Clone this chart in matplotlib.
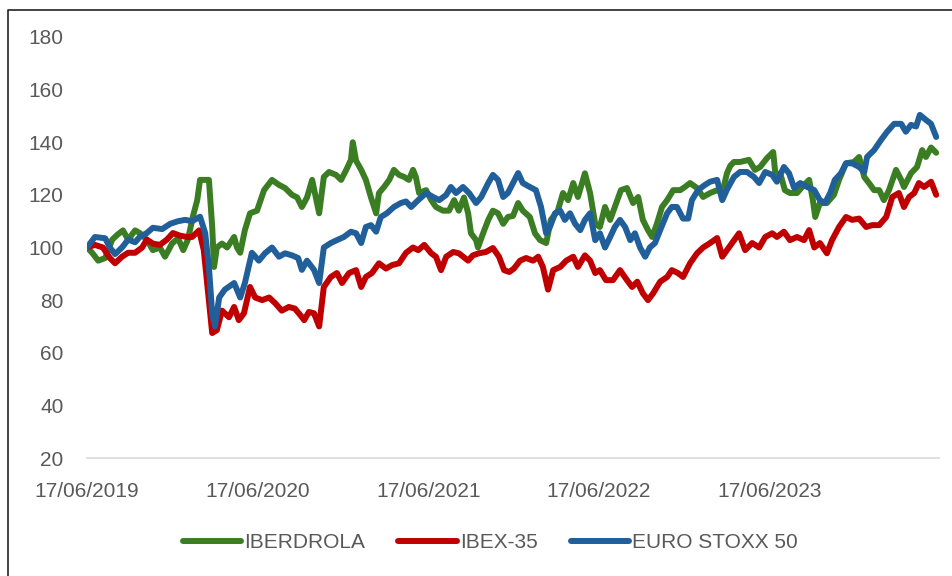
import matplotlib
matplotlib.use("Agg")
import matplotlib.pyplot as plt
import matplotlib.dates as mdates
from matplotlib.lines import Line2D
import pandas as pd

# Series indexed to 100 on 17/06/2019; x values are days since that date
start = pd.Timestamp("2019-06-17")
end = pd.Timestamp("2024-06-14")

iber_days = [0, 11, 24, 39, 54, 66, 77, 88, 103, 113, 128, 141, 156, 167, 182, 195, 206, 216,
             227, 236, 242, 261, 268, 272, 278, 289, 300, 315, 321, 328, 338, 349, 364, 379,
             396, 411, 424, 439, 450, 460, 471, 482, 490, 497, 507, 518, 533, 544, 555, 565,
             569, 576, 587, 597, 608, 619, 625, 636, 647, 657, 668, 679, 689, 698, 704, 711,
             726, 737, 747, 762, 775, 786, 796, 807, 816, 822, 833, 837, 848, 859, 869, 880,
             891, 901, 912, 923, 933, 948, 959, 970, 983, 993, 1008, 1019, 1030, 1041, 1051,
             1066, 1077, 1088, 1098, 1109, 1120, 1130, 1143, 1156, 1169, 1180, 1190, 1201,
             1210, 1220, 1231, 1242, 1255, 1270, 1280, 1291, 1306, 1319, 1334, 1349, 1360,
             1370, 1377, 1385, 1398, 1417, 1430, 1441, 1456, 1469, 1475, 1484, 1494, 1505,
             1520, 1531, 1546, 1554, 1559, 1569, 1584, 1599, 1610, 1625, 1642, 1653, 1664,
             1674, 1685, 1696, 1706, 1717, 1732, 1743, 1749, 1764, 1777, 1788, 1796, 1807, 1818]
iber_vals = [100, 98, 95, 96, 103, 105, 106.5, 103, 106.5, 105.5, 103, 99, 100, 96.5, 101.5,
             103.5, 99, 103, 112, 118, 125.7, 125.7, 108, 92.6, 100, 101.5, 100, 104, 100, 98,
             106.6, 113, 114, 121.8, 125.7, 123.8, 122.6, 120, 119, 115.4, 119, 125.7, 119, 113,
             126.8, 128.7, 127.6, 125.7, 129.5, 133.3, 140, 133, 129.5, 125.7, 119, 113, 120.7,
             123, 125.7, 129.5, 127.6, 126.8, 125.7, 129.5, 126.8, 120.7, 121.8, 118, 115.4, 114,
             114, 118, 114, 119, 113, 105.4, 102.8, 100, 105.4, 110.5, 114, 113, 109, 111.6, 112,
             116.9, 114, 111.6, 105.4, 102.8, 101.7, 110.5, 114, 120.7, 118, 124.5, 119.2, 128.2,
             120.7, 109, 107.8, 115.4, 110.5, 115.4, 121.8, 122.6, 116.9, 119.2, 110.5, 106.6,
             104, 109, 115.4, 118, 121.8, 121.8, 123, 124.5, 122.6, 119.2, 120.7, 121.8, 120.7,
             128.2, 131, 132.5, 132.5, 133.3, 129.5, 130.6, 134, 136.3, 125.7, 128.2, 121.8,
             120.7, 120.7, 123, 125.7, 118, 111.6, 116.9, 116.9, 120, 125.7, 132, 132.5, 134.4,
             126.8, 124.5, 121.8, 121.8, 118, 121.8, 129.5, 125.7, 123, 128.2, 130.6, 137, 134.4,
             138, 136]

ibex_days = [0, 17, 34, 49, 60, 75, 88, 103, 118, 128, 141, 156, 171, 184, 199, 214, 225, 240,
             250, 261, 268, 278, 289, 304, 315, 325, 336, 349, 360, 375, 390, 403, 417, 432, 445,
             458, 465, 475, 486, 497, 507, 522, 535, 546, 561, 576, 587, 597, 610, 625, 640, 653,
             668, 683, 698, 709, 722, 737, 747, 758, 769, 784, 796, 816, 826, 839, 854, 869, 882,
             893, 904, 914, 927, 940, 955, 966, 976, 987, 998, 1013, 1026, 1041, 1051, 1066, 1077,
             1088, 1098, 1111, 1126, 1141, 1156, 1167, 1178, 1190, 1201, 1212, 1227, 1242, 1252,
             1265, 1276, 1291, 1306, 1319, 1334, 1349, 1360, 1370, 1381, 1396, 1409, 1424, 1439,
             1452, 1467, 1477, 1492, 1505, 1520, 1535, 1546, 1557, 1569, 1584, 1595, 1610, 1625,
             1638, 1653, 1668, 1681, 1696, 1711, 1724, 1738, 1749, 1760, 1771, 1781, 1792, 1807, 1818]
ibex_vals = [100, 101, 100, 96, 94, 96.5, 98, 98, 100, 103, 101.5, 101, 103, 105.5, 104.5, 104,
             104, 106.5, 99, 80, 67.5, 68.6, 76, 73.5, 77.4, 72.4, 75, 85, 81, 80, 81, 78.8, 76,
             77.4, 76.8, 74, 72.4, 75.5, 75, 70, 85, 88.8, 90.3, 86.5, 90.3, 91.4, 85, 88.8, 90.3,
             94, 92, 93.3, 94, 98, 100, 99, 101, 97.8, 96.5, 91.4, 96.5, 98.3, 97.8, 95, 97, 97.8,
             98.3, 99.8, 96.5, 91.4, 90.7, 92, 95, 96, 95, 96.5, 92.6, 84, 91.4, 92.6, 95, 96.5,
             92.6, 97, 95, 90.3, 91.4, 87.6, 87.6, 91.4, 87.6, 85, 87, 82.6, 80, 82.6, 87, 88.8,
             91.4, 90.3, 88.8, 94, 97.8, 100, 101.7, 103.6, 96.5, 99, 101.7, 105.4, 99, 101.7, 100,
             104, 105.4, 104, 106, 102.8, 104, 102.8, 106.6, 100, 101.7, 97.8, 102.8, 107.8, 111.6,
             110.5, 111, 107.8, 108.5, 108.5, 111.6, 119.2, 120.7, 115.4, 119.2, 120.7, 124.5, 123,
             125, 120]

stoxx_days = [0, 17, 39, 49, 60, 75, 88, 103, 113, 128, 141, 161, 178, 195, 210, 225, 242, 253,
              261, 268, 274, 283, 295, 315, 328, 338, 353, 368, 381, 396, 411, 424, 439, 452, 460,
              471, 486, 497, 507, 522, 535, 550, 565, 576, 587, 597, 608, 619, 629, 642, 657, 672,
              683, 694, 709, 726, 741, 754, 769, 779, 790, 805, 818, 833, 844, 859, 869, 880, 891,
              901, 912, 923, 933, 948, 961, 972, 983, 991, 1002, 1013, 1023, 1034, 1045, 1056,
              1066, 1077, 1088, 1098, 1109, 1120, 1130, 1141, 1152, 1163, 1173, 1184, 1195, 1205,
              1216, 1227, 1242, 1252, 1263, 1276, 1287, 1295, 1308, 1323, 1334, 1349, 1360, 1370,
              1385, 1398, 1413, 1428, 1439, 1452, 1467, 1477, 1492, 1503, 1514, 1527, 1542, 1557,
              1569, 1580, 1591, 1601, 1614, 1625, 1638, 1653, 1664, 1670, 1685, 1700, 1713, 1728,
              1743, 1753, 1764, 1775, 1783, 1796, 1807, 1818]
stoxx_vals = [100, 104, 103.5, 100, 97.5, 100, 103, 102, 104, 105.5, 107.5, 107, 109, 110, 110.5,
              110, 111.7, 105.5, 92.6, 75, 70, 81, 84, 86.5, 81, 86.5, 98, 95, 97.8, 100, 96.5,
              97.8, 97, 96, 91.5, 95, 91.5, 86.5, 100, 101.7, 102.8, 104, 106, 105.4, 101.7, 107.8,
              108.5, 106, 111.6, 113, 115.4, 116.9, 117.5, 115.4, 118, 120.7, 119.2, 118, 120, 123,
              120.7, 123, 120.7, 116.9, 119.2, 124.5, 127.6, 125.7, 119.2, 120.7, 124.5, 128.3,
              124.5, 123, 121.8, 115.4, 105.4, 107.8, 113, 114, 110.5, 113, 109, 106.6, 110.5, 113,
              102.8, 105.4, 100, 104, 107.8, 110.5, 107.8, 102.8, 105.4, 100, 96.5, 100, 101.7,
              106.6, 113, 115.4, 115.4, 111, 111, 118, 121.8, 123.8, 125, 125.7, 118, 122, 126.8,
              128.7, 128.7, 126.8, 124.5, 128.7, 127.6, 125, 130.6, 128.2, 122.6, 124.5, 123,
              121.8, 118, 116.9, 120.7, 125.7, 128.2, 132, 132, 130.6, 128.7, 134.4, 137, 140.9,
              144, 147, 147, 144, 146.6, 146, 150.4, 148.5, 147, 142]

series_names = ["IBERDROLA", "IBEX-35", "EURO STOXX 50"]
series_colors = ["#3B7D23", "#C00000", "#215F9A"]
tick_years = [2019, 2020, 2021, 2022, 2023]

plt.rcParams["font.family"] = ["Liberation Sans", "DejaVu Sans"]

fig = plt.figure(figsize=(9.52, 5.76), dpi=100)
ax = fig.add_axes([87 / 952, 1 - 458 / 576, (939 - 87) / 952, (458 - 37) / 576])

series = [(iber_days, iber_vals), (ibex_days, ibex_vals), (stoxx_days, stoxx_vals)]
for (days, vals), name, color in zip(series, series_names, series_colors):
    dates = start + pd.to_timedelta(days, unit="D")
    ax.plot(dates, vals, color=color, lw=4.3, label=name,
            solid_joinstyle="round", solid_capstyle="round")

ax.set_ylim(20, 180)
ax.set_yticks(range(20, 181, 20))
ax.set_xlim(start, end)
ax.set_xticks([pd.Timestamp(f"{y}-06-17") for y in tick_years])
ax.xaxis.set_major_formatter(mdates.DateFormatter("%d/%m/%Y"))

for side in ["top", "right", "left"]:
    ax.spines[side].set_visible(False)
ax.spines["bottom"].set_color("#D9D9D9")
ax.spines["bottom"].set_linewidth(1.2)
ax.tick_params(axis="both", length=0, labelsize=15, labelcolor="#595959")
ax.tick_params(axis="y", pad=17)
ax.tick_params(axis="x", pad=17)

fig.legend(loc="center", bbox_to_anchor=(0.515, 1 - 543 / 576), ncol=3, frameon=False,
           fontsize=15, handlelength=2.8, handletextpad=0.15, columnspacing=1.6,
           labelcolor="#595959")

# outer chart frame (left and top edges visible)
fig.add_artist(Line2D([8 / 952, 8 / 952, 1], [0, 1 - 10 / 576, 1 - 10 / 576],
                      transform=fig.transFigure, color="#222222", lw=1.2))

fig.savefig("out.png", dpi=100)
